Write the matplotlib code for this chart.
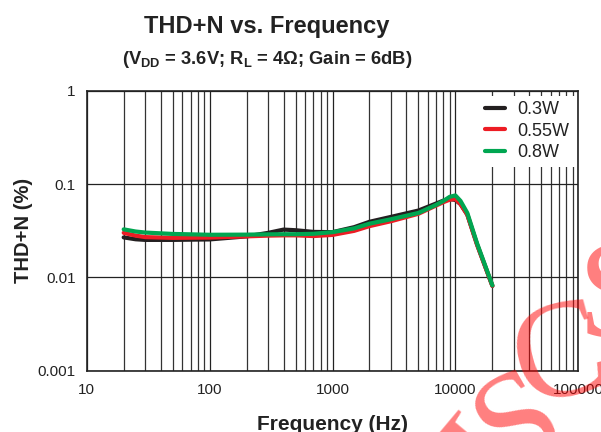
import matplotlib
matplotlib.use("Agg")
import matplotlib.pyplot as plt
from matplotlib.ticker import FixedLocator, NullFormatter, FixedFormatter

plt.rcParams['font.family'] = ['Liberation Sans', 'DejaVu Sans']
plt.rcParams['mathtext.fontset'] = 'custom'
plt.rcParams['mathtext.rm'] = 'Liberation Sans:bold'
plt.rcParams['mathtext.bf'] = 'Liberation Sans:bold'
plt.rcParams['mathtext.it'] = 'Liberation Sans:bold'

# ---- data ----
freq = [20, 25, 30, 50, 100, 200, 300, 400, 500, 700, 1000, 1500, 2000, 3000, 5000,
        7000, 8000, 9000, 10000, 11000, 12500, 15000, 17500, 20000]
thd_03w = [0.0268, 0.0256, 0.0252, 0.0252, 0.0255, 0.0275, 0.0300, 0.0325, 0.0320, 0.0307,
           0.0305, 0.0345, 0.0394, 0.0445, 0.0520, 0.0620, 0.0665, 0.0690, 0.0675, 0.0610,
           0.0470, 0.0225, 0.0130, 0.0081]
thd_055w = [0.0300, 0.0280, 0.0270, 0.0265, 0.0267, 0.0275, 0.0280, 0.0282, 0.0282, 0.0277,
            0.0285, 0.0315, 0.0354, 0.0400, 0.0480, 0.0590, 0.0640, 0.0680, 0.0690, 0.0610,
            0.0470, 0.0225, 0.0130, 0.0081]
thd_08w = [0.0327, 0.0310, 0.0302, 0.0292, 0.0286, 0.0287, 0.0289, 0.0290, 0.0290, 0.0293,
           0.0305, 0.0335, 0.0376, 0.0420, 0.0490, 0.0600, 0.0660, 0.0730, 0.0755, 0.0660,
           0.0490, 0.0232, 0.0133, 0.0082]
series_labels = ['0.3W', '0.55W', '0.8W']
series_colors = ['#231f20', '#ed1c24', '#00a651']
x_ticks = [10, 100, 1000, 10000, 100000]
x_ticklabels = ['10', '100', '1000', '10000', '100000']
y_ticks = [0.001, 0.01, 0.1, 1]
y_ticklabels = ['0.001', '0.01', '0.1', '1']
watermark_letters = ['I', 'S', 'C', 'S']

fig = plt.figure(figsize=(6.01, 4.32), dpi=100)
ax = fig.add_axes([86.7/601, 61.3/432, (578.3-86.7)/601, (371-91)/432])
ax.set_xscale('log')
ax.set_yscale('log')
ax.set_xlim(10, 100000)
ax.set_ylim(0.001, 1)

for ys, lab, col in zip([thd_03w, thd_055w, thd_08w], series_labels, series_colors):
    ax.plot(freq, ys, color=col, lw=3.0, label=lab, solid_capstyle='round',
            solid_joinstyle='round', zorder=3)

ax.xaxis.set_major_locator(FixedLocator(x_ticks))
ax.xaxis.set_major_formatter(FixedFormatter(x_ticklabels))
minor = [m * 10**e for e in range(1, 5) for m in range(2, 10)]
ax.xaxis.set_minor_locator(FixedLocator(minor))
ax.xaxis.set_minor_formatter(NullFormatter())
ax.yaxis.set_major_locator(FixedLocator(y_ticks))
ax.yaxis.set_major_formatter(FixedFormatter(y_ticklabels))
ax.yaxis.set_minor_locator(FixedLocator([]))

ax.grid(True, which='major', axis='both', color='#222222', lw=0.9)
ax.grid(True, which='minor', axis='x', color='#333333', lw=0.9)
ax.tick_params(which='both', length=0, labelsize=11, colors='#222222')
ax.tick_params(axis='x', pad=9)
ax.tick_params(axis='y', pad=8)
for s in ax.spines.values():
    s.set_color('#222222')
    s.set_linewidth(1.2)

ax.set_xlabel('Frequency (Hz)', fontsize=15, fontweight='bold', color='#222222', labelpad=13)
ax.set_ylabel('THD+N (%)', fontsize=14.5, fontweight='bold', color='#222222', labelpad=3)

leg = ax.legend(loc='upper right', bbox_to_anchor=(1.0, 0.995), fontsize=13,
                frameon=True, fancybox=False, edgecolor='none', facecolor='white', framealpha=1,
                handlelength=1.1, handletextpad=0.7, labelspacing=0.25, borderpad=0.3,
                borderaxespad=0.2)
for t in leg.get_texts():
    t.set_color('#222222')

fig.text(267/601, 1 - 33/432, 'THD+N vs. Frequency', ha='center', va='baseline',
         fontsize=17, fontweight='bold', color='#222222')
fig.text(267/601, 1 - 64/432, r'(V$_{\mathrm{DD}}$ = 3.6V; R$_{\mathrm{L}}$ = 4Ω; Gain = 6dB)',
         ha='center', va='baseline', fontsize=13.2, fontweight='bold', color='#222222')

# watermark: letters placed along an arc (pixel baseline points and rotations)
wm_pos = [(516, 478), (538, 456), (570, 394), (616, 337)]
wm_rot = [50, 30, 15, 0]
for ch, (px, py), r in zip(watermark_letters, wm_pos, wm_rot):
    fig.text(px/601, 1 - py/432, ch, ha='center', va='baseline', rotation=r,
             rotation_mode='anchor', fontsize=100, family='Liberation Serif',
             color='#ff0000', alpha=0.5, zorder=10)

fig.savefig('out.png', dpi=100)
